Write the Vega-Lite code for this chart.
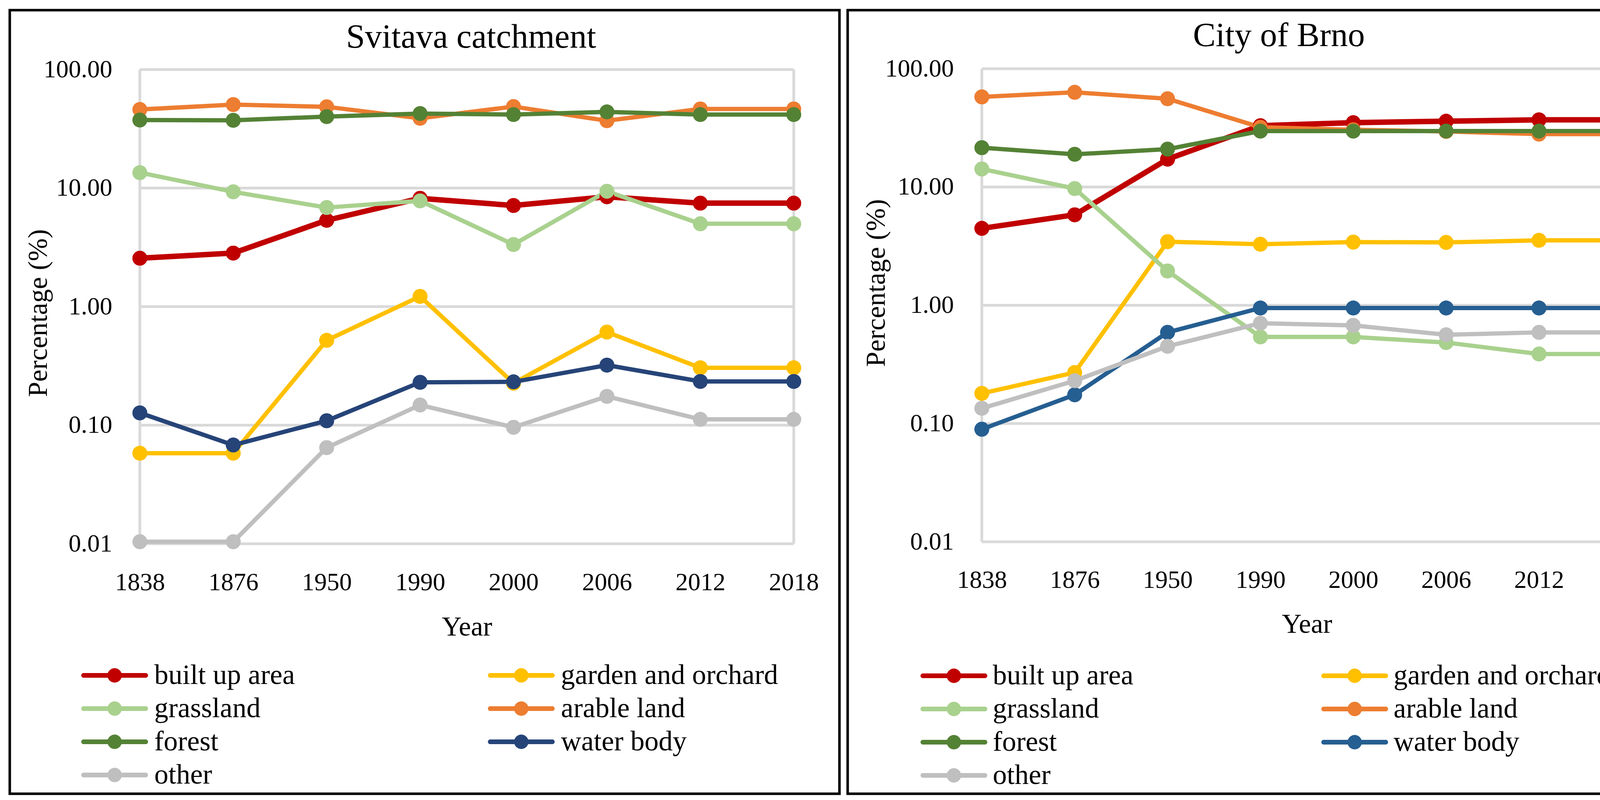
{
  "$schema": "https://vega.github.io/schema/vega-lite/v6.json",
  "background": "white",
  "padding": {"left": 21, "top": 22, "right": 0, "bottom": 0},
  "spacing": 21,
  "bounds": "flush",
  "config": {
    "view": {"stroke": "black", "strokeWidth": 6.5},
    "font": "Liberation Serif"
  },
  "datasets": {
    "svitava": [
      {"year": 1838, "cls": "built up area", "pct": 2.56},
      {"year": 1876, "cls": "built up area", "pct": 2.83},
      {"year": 1950, "cls": "built up area", "pct": 5.35},
      {"year": 1990, "cls": "built up area", "pct": 8.2},
      {"year": 2000, "cls": "built up area", "pct": 7.13},
      {"year": 2006, "cls": "built up area", "pct": 8.45},
      {"year": 2012, "cls": "built up area", "pct": 7.46},
      {"year": 2018, "cls": "built up area", "pct": 7.46},
      {"year": 1838, "cls": "garden and orchard", "pct": 0.058},
      {"year": 1876, "cls": "garden and orchard", "pct": 0.058},
      {"year": 1950, "cls": "garden and orchard", "pct": 0.52},
      {"year": 1990, "cls": "garden and orchard", "pct": 1.22},
      {"year": 2000, "cls": "garden and orchard", "pct": 0.226},
      {"year": 2006, "cls": "garden and orchard", "pct": 0.61},
      {"year": 2012, "cls": "garden and orchard", "pct": 0.305},
      {"year": 2018, "cls": "garden and orchard", "pct": 0.305},
      {"year": 1838, "cls": "grassland", "pct": 13.5},
      {"year": 1876, "cls": "grassland", "pct": 9.3},
      {"year": 1950, "cls": "grassland", "pct": 6.85},
      {"year": 1990, "cls": "grassland", "pct": 7.8},
      {"year": 2000, "cls": "grassland", "pct": 3.34},
      {"year": 2006, "cls": "grassland", "pct": 9.4},
      {"year": 2012, "cls": "grassland", "pct": 5.0},
      {"year": 2018, "cls": "grassland", "pct": 5.0},
      {"year": 1838, "cls": "arable land", "pct": 46.0},
      {"year": 1876, "cls": "arable land", "pct": 50.6},
      {"year": 1950, "cls": "arable land", "pct": 48.5},
      {"year": 1990, "cls": "arable land", "pct": 38.8},
      {"year": 2000, "cls": "arable land", "pct": 48.7},
      {"year": 2006, "cls": "arable land", "pct": 37.0},
      {"year": 2012, "cls": "arable land", "pct": 46.5},
      {"year": 2018, "cls": "arable land", "pct": 46.5},
      {"year": 1838, "cls": "forest", "pct": 37.5},
      {"year": 1876, "cls": "forest", "pct": 37.3},
      {"year": 1950, "cls": "forest", "pct": 40.1},
      {"year": 1990, "cls": "forest", "pct": 42.5},
      {"year": 2000, "cls": "forest", "pct": 41.7},
      {"year": 2006, "cls": "forest", "pct": 43.9},
      {"year": 2012, "cls": "forest", "pct": 41.7},
      {"year": 2018, "cls": "forest", "pct": 41.7},
      {"year": 1838, "cls": "water body", "pct": 0.127},
      {"year": 1876, "cls": "water body", "pct": 0.068},
      {"year": 1950, "cls": "water body", "pct": 0.109},
      {"year": 1990, "cls": "water body", "pct": 0.23},
      {"year": 2000, "cls": "water body", "pct": 0.232},
      {"year": 2006, "cls": "water body", "pct": 0.321},
      {"year": 2012, "cls": "water body", "pct": 0.234},
      {"year": 2018, "cls": "water body", "pct": 0.234},
      {"year": 1838, "cls": "other", "pct": 0.0104},
      {"year": 1876, "cls": "other", "pct": 0.0104},
      {"year": 1950, "cls": "other", "pct": 0.0647},
      {"year": 1990, "cls": "other", "pct": 0.148},
      {"year": 2000, "cls": "other", "pct": 0.096},
      {"year": 2006, "cls": "other", "pct": 0.175},
      {"year": 2012, "cls": "other", "pct": 0.112},
      {"year": 2018, "cls": "other", "pct": 0.112}
    ],
    "brno": [
      {"year": 1838, "cls": "built up area", "pct": 4.47},
      {"year": 1876, "cls": "built up area", "pct": 5.82},
      {"year": 1950, "cls": "built up area", "pct": 17.2},
      {"year": 1990, "cls": "built up area", "pct": 33.0},
      {"year": 2000, "cls": "built up area", "pct": 35.0},
      {"year": 2006, "cls": "built up area", "pct": 36.0},
      {"year": 2012, "cls": "built up area", "pct": 37.0},
      {"year": 2018, "cls": "built up area", "pct": 37.0},
      {"year": 1838, "cls": "garden and orchard", "pct": 0.18},
      {"year": 1876, "cls": "garden and orchard", "pct": 0.27},
      {"year": 1950, "cls": "garden and orchard", "pct": 3.45},
      {"year": 1990, "cls": "garden and orchard", "pct": 3.28},
      {"year": 2000, "cls": "garden and orchard", "pct": 3.42},
      {"year": 2006, "cls": "garden and orchard", "pct": 3.4},
      {"year": 2012, "cls": "garden and orchard", "pct": 3.54},
      {"year": 2018, "cls": "garden and orchard", "pct": 3.54},
      {"year": 1838, "cls": "grassland", "pct": 14.2},
      {"year": 1876, "cls": "grassland", "pct": 9.7},
      {"year": 1950, "cls": "grassland", "pct": 1.95},
      {"year": 1990, "cls": "grassland", "pct": 0.54},
      {"year": 2000, "cls": "grassland", "pct": 0.54},
      {"year": 2006, "cls": "grassland", "pct": 0.484},
      {"year": 2012, "cls": "grassland", "pct": 0.387},
      {"year": 2018, "cls": "grassland", "pct": 0.387},
      {"year": 1838, "cls": "arable land", "pct": 57.8},
      {"year": 1876, "cls": "arable land", "pct": 63.2},
      {"year": 1950, "cls": "arable land", "pct": 55.8},
      {"year": 1990, "cls": "arable land", "pct": 32.0},
      {"year": 2000, "cls": "arable land", "pct": 30.5},
      {"year": 2006, "cls": "arable land", "pct": 29.5},
      {"year": 2012, "cls": "arable land", "pct": 28.0},
      {"year": 2018, "cls": "arable land", "pct": 28.0},
      {"year": 1838, "cls": "forest", "pct": 21.5},
      {"year": 1876, "cls": "forest", "pct": 18.9},
      {"year": 1950, "cls": "forest", "pct": 20.9},
      {"year": 1990, "cls": "forest", "pct": 29.7},
      {"year": 2000, "cls": "forest", "pct": 29.7},
      {"year": 2006, "cls": "forest", "pct": 29.7},
      {"year": 2012, "cls": "forest", "pct": 29.7},
      {"year": 2018, "cls": "forest", "pct": 29.7},
      {"year": 1838, "cls": "water body", "pct": 0.0895},
      {"year": 1876, "cls": "water body", "pct": 0.175},
      {"year": 1950, "cls": "water body", "pct": 0.59},
      {"year": 1990, "cls": "water body", "pct": 0.948},
      {"year": 2000, "cls": "water body", "pct": 0.948},
      {"year": 2006, "cls": "water body", "pct": 0.948},
      {"year": 2012, "cls": "water body", "pct": 0.948},
      {"year": 2018, "cls": "water body", "pct": 0.948},
      {"year": 1838, "cls": "other", "pct": 0.1345},
      {"year": 1876, "cls": "other", "pct": 0.23},
      {"year": 1950, "cls": "other", "pct": 0.45},
      {"year": 1990, "cls": "other", "pct": 0.705},
      {"year": 2000, "cls": "other", "pct": 0.676},
      {"year": 2006, "cls": "other", "pct": 0.563},
      {"year": 2012, "cls": "other", "pct": 0.59},
      {"year": 2018, "cls": "other", "pct": 0.59}
    ],
    "hgrid": [{"g": 0.01}, {"g": 0.1}, {"g": 1}, {"g": 10}, {"g": 100}],
    "vgrid": [{"yr": 1838}, {"yr": 2018}]
  },
  "resolve": {"scale": {"color": "independent"}, "legend": {"color": "independent"}},
  "hconcat": [
    {
      "width": 2124,
      "height": 2006,
      "title": {"text": "Svitava catchment", "frame": "group", "anchor": "middle", "offset": -183, "dx": 119, "baseline": "alphabetic", "font": "Liberation Serif", "fontSize": 87, "fontWeight": "normal", "color": "black"},
      "layer": [
        {
          "data": {"name": "hgrid"},
          "mark": {"type": "rule", "color": "#d9d9d9", "strokeWidth": 7},
          "encoding": {
            "y": {"field": "g", "type": "quantitative"},
            "x": {"datum": 1838, "type": "ordinal"},
            "x2": {"datum": 2018}
          }
        },
        {
          "data": {"name": "vgrid"},
          "mark": {"type": "rule", "color": "#d9d9d9", "strokeWidth": 7},
          "encoding": {
            "x": {"field": "yr", "type": "ordinal"},
            "y": {"datum": 0.01, "type": "quantitative"},
            "y2": {"datum": 100}
          }
        },
        {
          "data": {"name": "svitava"},
          "mark": {"type": "point", "filled": true, "opacity": 1, "size": 1444, "shape": "circle"},
          "encoding": {
            "x": {"field": "year", "type": "ordinal"},
            "y": {"field": "pct", "type": "quantitative"},
            "color": {"field": "cls", "type": "nominal",
              "legend": {"orient": "none", "direction": "horizontal", "legendX": 166, "legendY": 1667, "columns": 2, "columnPadding": 477, "rowPadding": 13, "title": null, "padding": 0,
                "symbolType": "M-0.684,-0.316L7.684,-0.316A0.316,0.316,0,0,1,7.684,0.316L-0.684,0.316A0.316,0.316,0,0,1,-0.684,-0.316ZM4.47,0A0.97,0.97,0,1,1,2.53,0A0.97,0.97,0,1,1,4.47,0Z",
                "symbolSize": 1444, "symbolStrokeWidth": 0, "symbolOpacity": 1, "labelFont": "Liberation Serif", "labelFontSize": 72, "labelColor": "black", "labelOffset": 132, "labelLimit": 2000}}
          }
        },
        {
          "data": {"name": "svitava"},
          "mark": {"type": "line", "strokeCap": "round", "strokeJoin": "round"},
          "encoding": {
            "x": {"field": "year", "type": "ordinal",
              "scale": {"type": "point", "padding": 0, "range": [333, 2007]},
              "axis": {"title": "Year", "orient": "bottom", "offset": -640, "domain": false, "ticks": false, "tickSize": 0, "grid": false, "labelAngle": 0, "labelAlign": "center", "labelBaseline": "top", "labelPadding": 67, "labelFont": "Liberation Serif", "labelFontSize": 64, "labelColor": "black", "titleFont": "Liberation Serif", "titleFontSize": 70, "titleFontWeight": "normal", "titleColor": "black", "titleY": 234, "titleBaseline": "alphabetic", "titleAlign": "center"}},
            "y": {"field": "pct", "type": "quantitative",
              "scale": {"type": "log", "domain": [0.01, 100], "range": [1366, 152], "nice": false},
              "axis": {"title": "Percentage (%)", "orient": "left", "offset": -333, "domain": false, "ticks": false, "tickSize": 0, "grid": false, "values": [0.01, 0.1, 1, 10, 100], "format": ".2f", "labelAlign": "right", "labelBaseline": "middle", "labelPadding": 71, "labelFont": "Liberation Serif", "labelFontSize": 64, "labelColor": "black", "titleFont": "Liberation Serif", "titleFontSize": 70, "titleFontWeight": "normal", "titleColor": "black", "titleX": -239, "titleY": 775, "titleAngle": -90, "titleBaseline": "alphabetic", "titleAlign": "center"}},
            "color": {"field": "cls", "type": "nominal",
              "scale": {"domain": ["built up area", "garden and orchard", "grassland", "arable land", "forest", "water body", "other"],
                        "range": ["#C00000", "#FFC000", "#A9D18E", "#ED7D31", "#548235", "#264478", "#BFBFBF"]}},
            "strokeWidth": {"condition": {"test": "datum.cls === 'built up area'", "value": 14}, "value": 11}
          }
        },
        {
          "data": {"name": "svitava"},
          "mark": {"type": "point", "filled": true, "opacity": 1, "size": 1444, "shape": "circle"},
          "encoding": {
            "x": {"field": "year", "type": "ordinal"},
            "y": {"field": "pct", "type": "quantitative"},
            "color": {"field": "cls", "type": "nominal"}
          }
        }
      ]
    },
    {
      "width": 2132,
      "height": 2006,
      "title": {"text": "City of Brno", "frame": "group", "anchor": "middle", "offset": -179, "dx": 38, "baseline": "alphabetic", "font": "Liberation Serif", "fontSize": 87, "fontWeight": "normal", "color": "black"},
      "layer": [
        {
          "data": {"name": "hgrid"},
          "mark": {"type": "rule", "color": "#d9d9d9", "strokeWidth": 7},
          "encoding": {
            "y": {"field": "g", "type": "quantitative"},
            "x": {"datum": 1838, "type": "ordinal"},
            "x2": {"datum": 2018}
          }
        },
        {
          "data": {"name": "vgrid"},
          "mark": {"type": "rule", "color": "#d9d9d9", "strokeWidth": 7},
          "encoding": {
            "x": {"field": "yr", "type": "ordinal"},
            "y": {"datum": 0.01, "type": "quantitative"},
            "y2": {"datum": 100}
          }
        },
        {
          "data": {"name": "brno"},
          "mark": {"type": "point", "filled": true, "opacity": 1, "size": 1444, "shape": "circle"},
          "encoding": {
            "x": {"field": "year", "type": "ordinal"},
            "y": {"field": "pct", "type": "quantitative"},
            "color": {"field": "cls", "type": "nominal",
              "legend": {"orient": "none", "direction": "horizontal", "legendX": 169.5, "legendY": 1668, "columns": 2, "columnPadding": 464, "rowPadding": 13, "title": null, "padding": 0,
                "symbolType": "M-0.684,-0.316L7.684,-0.316A0.316,0.316,0,0,1,7.684,0.316L-0.684,0.316A0.316,0.316,0,0,1,-0.684,-0.316ZM4.47,0A0.97,0.97,0,1,1,2.53,0A0.97,0.97,0,1,1,4.47,0Z",
                "symbolSize": 1444, "symbolStrokeWidth": 0, "symbolOpacity": 1, "labelFont": "Liberation Serif", "labelFontSize": 72, "labelColor": "black", "labelOffset": 130, "labelLimit": 2000}}
          }
        },
        {
          "data": {"name": "brno"},
          "mark": {"type": "line", "strokeCap": "round", "strokeJoin": "round"},
          "encoding": {
            "x": {"field": "year", "type": "ordinal",
              "scale": {"type": "point", "padding": 0, "range": [343.5, 2007.5]},
              "axis": {"title": "Year", "orient": "bottom", "offset": -645, "domain": false, "ticks": false, "tickSize": 0, "grid": false, "labelAngle": 0, "labelAlign": "center", "labelBaseline": "top", "labelPadding": 66, "labelFont": "Liberation Serif", "labelFontSize": 64, "labelColor": "black", "titleFont": "Liberation Serif", "titleFontSize": 70, "titleFontWeight": "normal", "titleColor": "black", "titleY": 232, "titleBaseline": "alphabetic", "titleAlign": "center"}},
            "y": {"field": "pct", "type": "quantitative",
              "scale": {"type": "log", "domain": [0.01, 100], "range": [1361, 150], "nice": false},
              "axis": {"title": "Percentage (%)", "orient": "left", "offset": -343.5, "domain": false, "ticks": false, "tickSize": 0, "grid": false, "values": [0.01, 0.1, 1, 10, 100], "format": ".2f", "labelAlign": "right", "labelBaseline": "middle", "labelPadding": 72, "labelFont": "Liberation Serif", "labelFontSize": 64, "labelColor": "black", "titleFont": "Liberation Serif", "titleFontSize": 70, "titleFontWeight": "normal", "titleColor": "black", "titleX": -249, "titleY": 698, "titleAngle": -90, "titleBaseline": "alphabetic", "titleAlign": "center"}},
            "color": {"field": "cls", "type": "nominal",
              "scale": {"domain": ["built up area", "garden and orchard", "grassland", "arable land", "forest", "water body", "other"],
                        "range": ["#C00000", "#FFC000", "#A9D18E", "#ED7D31", "#548235", "#255E91", "#BFBFBF"]}},
            "strokeWidth": {"condition": {"test": "datum.cls === 'built up area'", "value": 14}, "value": 11}
          }
        },
        {
          "data": {"name": "brno"},
          "mark": {"type": "point", "filled": true, "opacity": 1, "size": 1444, "shape": "circle"},
          "encoding": {
            "x": {"field": "year", "type": "ordinal"},
            "y": {"field": "pct", "type": "quantitative"},
            "color": {"field": "cls", "type": "nominal"}
          }
        }
      ]
    }
  ]
}
